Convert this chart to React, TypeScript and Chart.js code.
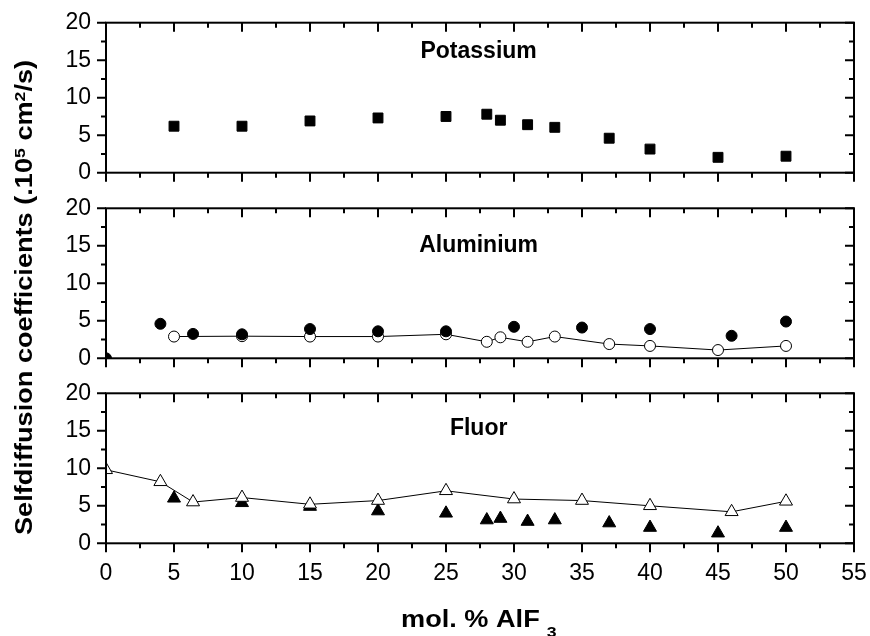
import React, { useEffect, useRef } from "react";
import { Chart, registerables } from "chart.js";

Chart.register(...registerables);

const FONT = "'Liberation Sans', Arial, Helvetica, sans-serif";
const W = 870;
const H = 636;

// ---------- data ----------
const potassiumX = [5, 10, 15, 20, 25, 28, 29, 31, 33, 37, 40, 45, 50];
const potassiumY = [6.2, 6.2, 6.9, 7.3, 7.5, 7.8, 7.0, 6.4, 6.05, 4.6, 3.15, 2.05, 2.2];

const aluFilledX = [0, 4, 6.4, 10, 15, 20, 25, 30, 35, 40, 46, 50];
const aluFilledY = [0, 4.6, 3.25, 3.2, 3.9, 3.6, 3.6, 4.2, 4.1, 3.9, 3.0, 4.9];

const aluOpenX = [5, 10, 15, 20, 25, 28, 29, 31, 33, 37, 40, 45, 50];
const aluOpenY = [2.9, 2.95, 2.9, 2.9, 3.2, 2.2, 2.8, 2.2, 2.9, 1.9, 1.65, 1.1, 1.65];

const fluorOpenX = [0, 4, 6.4, 10, 15, 20, 25, 30, 35, 40, 46, 50];
const fluorOpenY = [9.8, 8.2, 5.5, 6.1, 5.2, 5.7, 7.0, 5.9, 5.7, 5.0, 4.2, 5.6];

const fluorFilledX = [5, 10, 15, 20, 25, 28, 29, 31, 33, 37, 40, 45, 50];
const fluorFilledY = [6.0, 5.4, 4.9, 4.3, 4.0, 3.1, 3.3, 2.9, 3.1, 2.7, 2.1, 1.35, 2.1];

const panelTitles = ["Potassium", "Aluminium", "Fluor"];
const xTitle = { main: "mol. % AlF", sub: "3" };
const yTitle = ["Selfdiffusion coefficients (.10", "5", " cm", "2", "/s)"];

const X_MIN = 0;
const X_MAX = 55;
const Y_MIN = 0;
const Y_MAX = 20;
const X_STEP = 5;
const Y_STEP = 5;

// ---------- layout ----------
const panelBoxes = [
  { top: 22.7, bottom: 172.7, titleDy: 35.6, showX: false },
  { top: 208.3, bottom: 358.3, titleDy: 43.4, showX: false },
  { top: 393.3, bottom: 543.3, titleDy: 41.7, showX: true },
];
const AREA_LEFT = 106;
const AREA_RIGHT = 854;
const X_AXIS_H = 40;

function series(xs: number[], ys: number[], style: string, radius: number, filled: boolean, line: boolean) {
  return {
    data: xs.map((x, i) => ({ x, y: ys[i] })),
    showLine: line,
    borderColor: "#000",
    borderWidth: 1,
    pointStyle: style,
    pointRadius: radius,
    pointHoverRadius: radius,
    pointBackgroundColor: filled ? "#000" : "#fff",
    pointBorderColor: "#000",
    pointBorderWidth: 1,
    clip: 0,
  };
}

const frameTicksPlugin = {
  id: "frameTicks",
  afterDatasetsDraw(chart: any) {
    const { ctx, chartArea } = chart;
    const xs = chart.scales.x;
    const ys = chart.scales.y;
    const { left, right, top, bottom } = chartArea;
    const major = 9;
    const minor = 5;
    ctx.save();
    ctx.strokeStyle = "#000";
    ctx.lineWidth = 2;
    ctx.lineCap = "butt";
    const xMaj: number[] = xs.ticks.map((t: any) => t.value);
    const yMaj: number[] = ys.ticks.map((t: any) => t.value);
    const xMin: number[] = [];
    for (let i = 0; i < xMaj.length - 1; i++) xMin.push((xMaj[i] + xMaj[i + 1]) / 2);
    const yMin: number[] = [];
    for (let i = 0; i < yMaj.length - 1; i++) yMin.push((yMaj[i] + yMaj[i + 1]) / 2);
    ctx.beginPath();
    const xt = (v: number, len: number) => {
      const p = xs.getPixelForValue(v);
      ctx.moveTo(p, bottom);
      ctx.lineTo(p, bottom + len);
      ctx.moveTo(p, top);
      ctx.lineTo(p, top + len);
    };
    const yt = (v: number, len: number) => {
      const p = ys.getPixelForValue(v);
      ctx.moveTo(left, p);
      ctx.lineTo(left - len, p);
      ctx.moveTo(right, p);
      ctx.lineTo(right - len, p);
    };
    xMaj.forEach((v) => xt(v, major));
    xMin.forEach((v) => xt(v, minor));
    yMaj.forEach((v) => yt(v, major));
    yMin.forEach((v) => yt(v, minor));
    ctx.stroke();
    ctx.strokeRect(left, top, right - left, bottom - top);
    ctx.restore();
  },
};

function panelTitlePlugin(title: string, dy: number) {
  return {
    id: "panelTitle",
    afterDraw(chart: any) {
      const { ctx, chartArea } = chart;
      const x = chart.scales.x.getPixelForValue(27.4);
      ctx.save();
      ctx.fillStyle = "#000";
      ctx.font = `bold 23px ${FONT}`;
      ctx.textAlign = "center";
      ctx.textBaseline = "alphabetic";
      ctx.fillText(title, x, chartArea.top + dy);
      ctx.restore();
    },
  };
}

const axisTitlesPlugin = {
  id: "axisTitles",
  afterDraw(chart: any) {
    const { ctx } = chart;
    const stretch = 1.18;
    ctx.save();
    ctx.fillStyle = "#000";
    ctx.textAlign = "left";
    ctx.textBaseline = "alphabetic";
    // x title
    ctx.save();
    ctx.translate(401, 626.7);
    ctx.scale(stretch, 1);
    ctx.font = `bold 23px ${FONT}`;
    ctx.fillText(xTitle.main, 0, 0);
    const w = ctx.measureText(xTitle.main).width;
    ctx.font = `bold 15px ${FONT}`;
    ctx.fillText(xTitle.sub, w + 6, 10);
    ctx.restore();
    // y title
    ctx.save();
    ctx.translate(31.7, 535);
    ctx.rotate(-Math.PI / 2);
    ctx.scale(stretch, 1);
    let cx = 0;
    yTitle.forEach((seg, i) => {
      const sup = i % 2 === 1;
      ctx.font = sup ? `bold 15px ${FONT}` : `bold 23px ${FONT}`;
      ctx.fillText(seg, cx, sup ? -7 : 0);
      cx += ctx.measureText(seg).width;
    });
    ctx.restore();
    ctx.restore();
  },
};

function makeConfig(idx: number, datasets: any[]) {
  const box = panelBoxes[idx];
  const tickFont = { family: FONT, size: 23 };
  const plugins: any[] = [frameTicksPlugin, panelTitlePlugin(panelTitles[idx], box.titleDy)];
  if (idx === 2) plugins.push(axisTitlesPlugin);
  return {
    type: "scatter" as const,
    data: { datasets },
    options: {
      responsive: false,
      animation: false as const,
      events: [],
      layout: {
        padding: {
          left: 0,
          right: W - AREA_RIGHT,
          top: box.top,
          bottom: H - box.bottom - X_AXIS_H,
        },
      },
      plugins: { legend: { display: false }, tooltip: { enabled: false } },
      scales: {
        x: {
          type: "linear" as const,
          min: X_MIN,
          max: X_MAX,
          grid: { display: false, drawTicks: false },
          border: { display: false },
          ticks: {
            display: box.showX,
            stepSize: X_STEP,
            color: "#000",
            font: tickFont,
            padding: 17,
            maxRotation: 0,
            autoSkip: false,
          },
          afterFit: (s: any) => {
            s.height = X_AXIS_H;
            s.paddingLeft = 0;
            s.paddingRight = 0;
          },
        },
        y: {
          type: "linear" as const,
          min: Y_MIN,
          max: Y_MAX,
          grid: { display: false, drawTicks: false },
          border: { display: false },
          ticks: { stepSize: Y_STEP, color: "#000", font: tickFont, padding: 15 },
          afterFit: (s: any) => {
            s.width = AREA_LEFT;
            s.paddingTop = 0;
            s.paddingBottom = 0;
          },
        },
      },
    },
    plugins,
  };
}

export default function App() {
  const r1 = useRef<HTMLCanvasElement>(null);
  const r2 = useRef<HTMLCanvasElement>(null);
  const r3 = useRef<HTMLCanvasElement>(null);

  useEffect(() => {
    const sets = [
      [series(potassiumX, potassiumY, "rect", 7, true, false)],
      [
        series(aluFilledX, aluFilledY, "circle", 5.5, true, false),
        series(aluOpenX, aluOpenY, "circle", 5.5, false, true),
      ],
      [
        series(fluorOpenX, fluorOpenY, "triangle", 7.5, false, true),
        series(fluorFilledX, fluorFilledY, "triangle", 7.5, true, false),
      ],
    ];
    const refs = [r1, r2, r3];
    const charts = refs.map((r, i) => new Chart(r.current as HTMLCanvasElement, makeConfig(i, sets[i]) as any));
    return () => charts.forEach((c) => c.destroy());
  }, []);

  const canvasStyle: React.CSSProperties = { position: "absolute", left: 0, top: 0 };
  return (
    <div style={{ position: "fixed", left: 0, top: 0, width: W, height: H, background: "#fff" }}>
      <canvas ref={r1} width={W} height={H} style={canvasStyle} />
      <canvas ref={r2} width={W} height={H} style={canvasStyle} />
      <canvas ref={r3} width={W} height={H} style={canvasStyle} />
    </div>
  );
}
